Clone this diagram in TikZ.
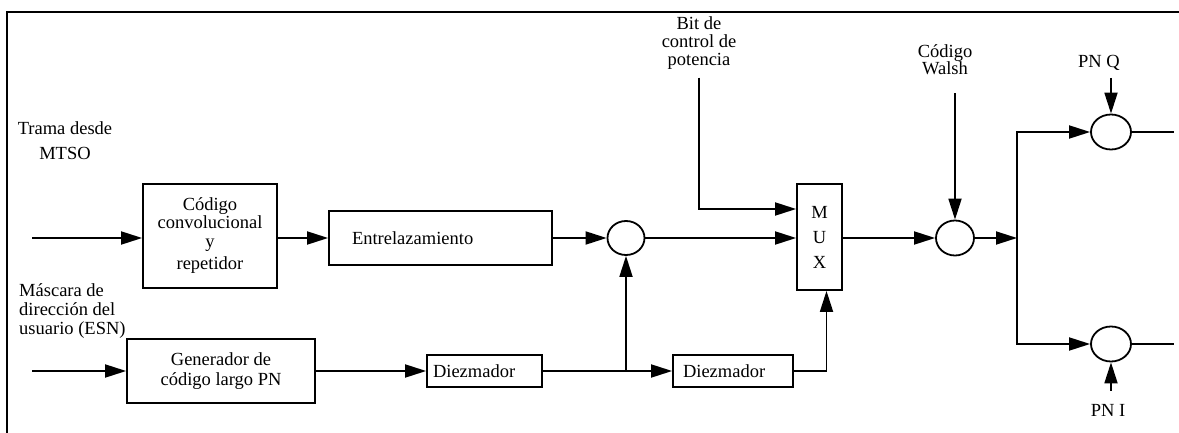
\documentclass[tikz,border=0pt]{standalone}
\usepackage{fontspec}
\setmainfont{Liberation Serif}
\usetikzlibrary{arrows.meta,shapes.geometric}
\begin{document}
\begin{tikzpicture}[x=1pt,y=-1pt,
  txt/.style={font=\fontsize{18.5}{19}\selectfont},
  blk/.style={draw, line width=1.8pt, rectangle, inner sep=0pt, txt},
  mixer/.style={draw, line width=1.8pt, ellipse, inner sep=0pt, minimum width=38pt, minimum height=35pt},
  lbl/.style={inner sep=0pt, txt},
  wire/.style={line width=1.8pt},
  arr/.style={wire, -{Triangle[length=21pt,width=13pt]}}]
\useasboundingbox (0,0) rectangle (1179,433);
% frame
\draw[wire] (7,434) -- (7,12) -- (1180,12);

% labels
\node[lbl, align=center, font=\fontsize{18.5}{25}\selectfont] (trama) at (65,141) {Trama desde\\MTSO};
\node[lbl, align=left, anchor=west] (mascara) at (19,311) {Máscara de\\dirección del\\usuario (ESN)};
\node[lbl, align=center, font=\fontsize{18.5}{18}\selectfont] (bit) at (699,43) {Bit de\\control de\\potencia};
\node[lbl, align=center, font=\fontsize{18.5}{17}\selectfont] (walsh) at (945,60) {Código\\Walsh};
\node[lbl] (pnq) at (1099,63) {PN Q};
\node[lbl] (pni) at (1108,410) {PN I};

% input coordinates
\coordinate (in1) at (32,238);
\coordinate (in2) at (32,371);

% blocks
\node[blk, minimum width=134pt, minimum height=104pt, align=center] (conv) at (210,236)
  {Código\\[-1pt]convolucional\\[0pt]y\\[3pt]repetidor};
\node[blk, minimum height=54pt, text width=177pt, inner xsep=23pt, align=left] (ent) at (440.5,238) {Entrelazamiento};
\node[blk, minimum width=188pt, minimum height=64pt, align=center, font=\fontsize{18.5}{20}\selectfont] (gen) at (221,371)
  {Generador de\\código largo PN};
\node[blk, minimum height=32pt, text width=103pt, inner xsep=6pt, align=left] (dz1) at (484.5,371) {Diezmador};
\node[blk, minimum height=32pt, text width=100pt, inner xsep=10pt, align=left] (dz2) at (733,371) {Diezmador};
\node[blk, minimum width=45pt, minimum height=106pt, align=center, font=\fontsize{18.5}{25}\selectfont] (mux) at (819.5,237) {M\\U\\X};

% mixers
\node[mixer, minimum width=37pt, minimum height=34pt] (c1) at (626,238) {};
\node[mixer] (c2) at (955,238) {};
\node[mixer, minimum width=40pt] (c3) at (1111,132) {};
\node[mixer, minimum width=40pt] (c4) at (1111,344) {};

% coordinates
\coordinate (j) at (626,371);
\coordinate (s) at (1017,238);
\coordinate (o3) at (1174,132);
\coordinate (o4) at (1174,344);

% connectors
\draw[arr] (in1) -- (conv.west |- in1);
\draw[arr] (conv.east |- ent.west) -- (ent.west);
\draw[arr] (ent.east) -- (c1.west);
\draw[arr] (c1.east) -- (mux.west |- c1.east);
\draw[arr, shorten <=8pt] (bit.south) |- ([yshift=28pt]mux.west);
\draw[arr] (in2) -- (gen.west);
\draw[arr] (gen.east) -- (dz1.west);
\draw[arr] (dz1.east) -- (dz2.west);
\draw[arr] (j) -- (c1.south);
\draw[arr] (dz2.east) -| ([xshift=7pt]mux.south);
\draw[arr] (mux.east |- c2.west) -- (c2.west);
\draw[arr, shorten <=18pt] (c2.north |- walsh.south) -- (c2.north);
\draw[arr] (c2.east) -- (s);
\draw[arr] (s) |- (c3.west);
\draw[arr] (s) |- (c4.west);
\draw[wire] (c3.east) -- (o3);
\draw[wire] (c4.east) -- (o4);
\draw[arr, shorten <=7pt] (c3.north |- pnq.south) -- (c3.north);
\draw[arr, shorten <=13pt] (c4.south |- pni.north) -- (c4.south);
\end{tikzpicture}
\end{document}
